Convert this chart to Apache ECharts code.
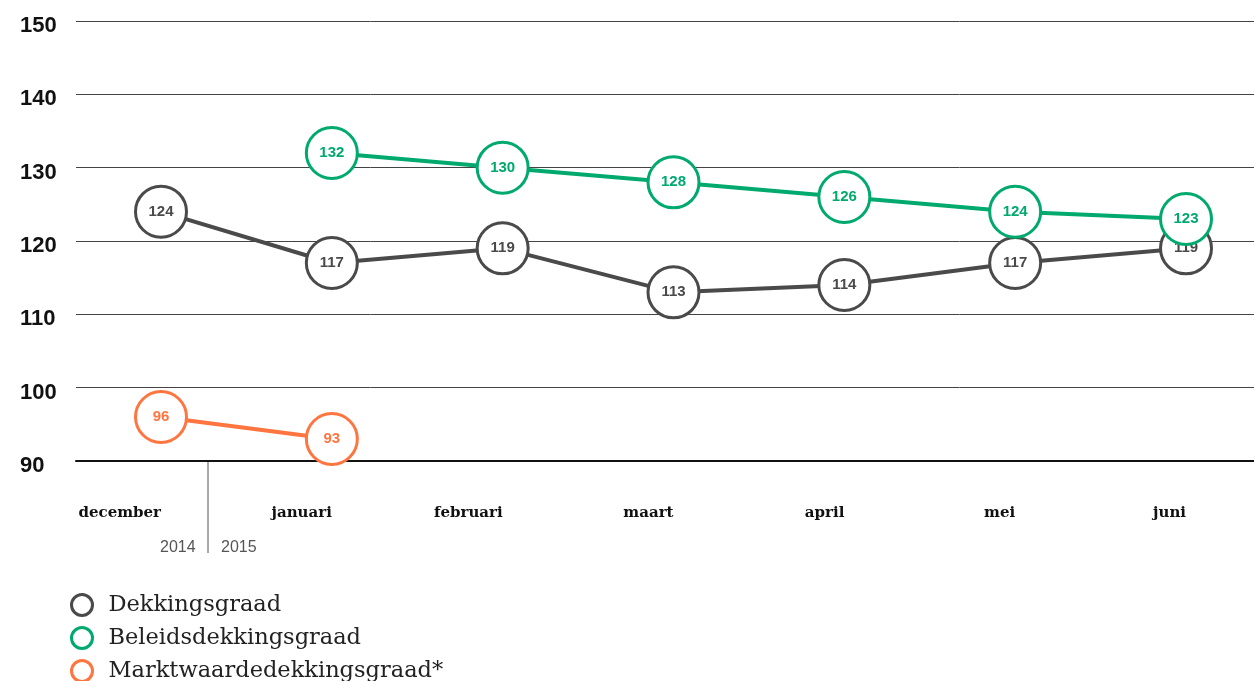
<!DOCTYPE html>
<html><head><meta charset="utf-8">
<script src="https://cdn.jsdelivr.net/npm/echarts@6/dist/echarts.min.js"></script>
<style>html,body{margin:0;padding:0;background:#fff}#c{width:1254px;height:681px}</style>
</head><body><div id="c"></div>
<script>
const categories = ['december','januari','februari','maart','april','mei','juni'];
const dekkingsgraad = [124,117,119,113,114,117,119];
const beleidsdekkingsgraad = [null,132,130,128,126,124,123];
const marktwaardedekkingsgraad = [96,93,null,null,null,null,null];
const yTicks = {min:90, max:150, interval:10};
const seriesNames = ['Dekkingsgraad','Beleidsdekkingsgraad','Marktwaardedekkingsgraad*'];
const colors = ['#4a4a4a','#00a96e','#ff7540'];

const chart = echarts.init(document.getElementById('c'));
function mk(name, data, color, z){
  return {
    name, type:'line', data, z, xAxisIndex:1, yAxisIndex:1,
    symbol:'circle', symbolSize:51, showAllSymbol:true,
    lineStyle:{color, width:4},
    itemStyle:{color:'#fff', borderColor:color, borderWidth:3},
    label:{show:true, position:'inside', color, fontFamily:'Liberation Sans', fontWeight:'bold', fontSize:15},
    emphasis:{disabled:true}, animation:false
  };
}
const legends = seriesNames.map((n,i)=>({
  orient:'vertical', left:70, top:593 + i*33, padding:0, itemWidth:21, itemHeight:21,
  icon:'circle', selectedMode:false,
  textStyle:{fontFamily:'DejaVu Serif', fontSize:22.5, color:'#222', padding:[0,0,0,11]},
  data:[{name:n, itemStyle:{color:'#fff', borderColor:colors[i], borderWidth:3}}]
}));
chart.setOption({
  animation:false,
  grid:[{left:76, top:21, right:0, height:440},{left:161, top:21, width:1025, height:440}],
  legend:legends,
  xAxis:[
    {type:'value', gridIndex:0, min:0, max:1, axisLine:{show:true, onZero:false, lineStyle:{color:'#111', width:2}},
      axisTick:{show:false}, axisLabel:{show:false}, splitLine:{show:false}},
    {type:'category', gridIndex:1, data:categories, boundaryGap:false,
      axisLine:{show:false}, axisTick:{show:false}, splitLine:{show:false},
      axisLabel:{margin:45, align:'right', fontFamily:'DejaVu Serif', fontWeight:'bold', fontSize:15, color:'#111'}}
  ],
  yAxis:[
    {type:'value', gridIndex:0, min:yTicks.min, max:yTicks.max, interval:yTicks.interval,
      axisLine:{show:false}, axisTick:{show:false},
      splitLine:{lineStyle:{color:'#444', width:1}},
      axisLabel:{align:'left', margin:56, verticalAlign:'top', lineHeight:10, fontFamily:'Liberation Sans', fontWeight:'bold', fontSize:22, color:'#111'}},
    {type:'value', gridIndex:1, min:yTicks.min, max:yTicks.max, interval:yTicks.interval, show:false}
  ],
  graphic:[
    {type:'line', shape:{x1:208,y1:461,x2:208,y2:553}, style:{stroke:'#555', lineWidth:1}},
    {type:'text', left:160, top:540, style:{text:'2014', font:'16px "Liberation Sans"', fill:'#555'}},
    {type:'text', left:221, top:540, style:{text:'2015', font:'16px "Liberation Sans"', fill:'#555'}}
  ],
  series:[
    mk(seriesNames[0], dekkingsgraad, colors[0], 2),
    mk(seriesNames[1], beleidsdekkingsgraad, colors[1], 3),
    mk(seriesNames[2], marktwaardedekkingsgraad, colors[2], 4)
  ]
});
</script></body></html>
